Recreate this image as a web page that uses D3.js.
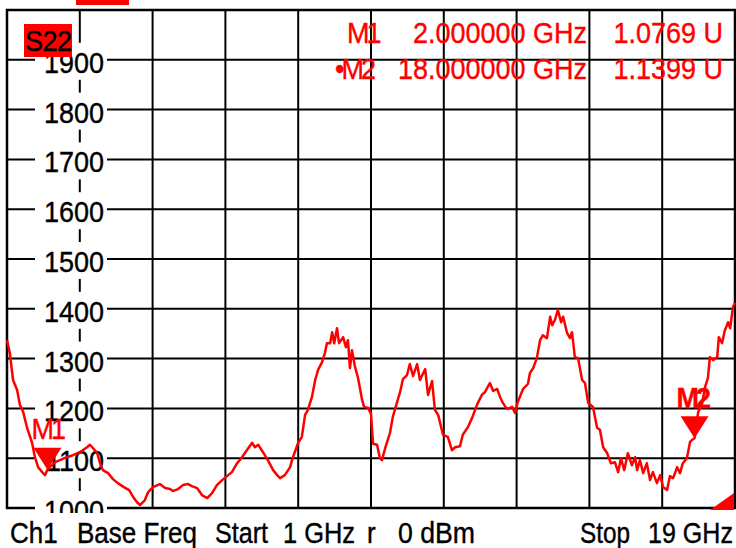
<!DOCTYPE html>
<html>
<head>
<meta charset="utf-8">
<script src="https://cdn.jsdelivr.net/npm/d3@7/dist/d3.min.js"></script>
<style>
  html, body { margin: 0; padding: 0; background: #fff; }
  svg { display: block; }
  text { font-family: "Liberation Sans", Arial, Helvetica, sans-serif; }
</style>
</head>
<body>
<svg id="chart" width="736" height="548"></svg>
<script>
// ---- data (S22 trace, frequency in GHz, value in mU) ----
const freqGHz = [1.00,1.07,1.15,1.25,1.32,1.40,1.49,1.62,1.69,1.77,
1.87,1.94,2.00,2.06,2.19,2.31,2.48,2.63,2.80,2.98,
3.05,3.13,3.23,3.30,3.37,3.50,3.62,3.74,3.89,4.02,
4.12,4.21,4.29,4.41,4.49,4.61,4.78,4.91,5.03,5.10,
5.23,5.35,5.48,5.57,5.70,5.82,5.95,6.07,6.19,6.32,
6.44,6.56,6.69,6.81,6.93,7.06,7.13,7.21,7.33,7.45,
7.58,7.68,7.75,7.87,8.00,8.07,8.20,8.29,8.37,8.44,
8.54,8.62,8.69,8.79,8.86,8.91,8.99,9.04,9.09,9.16,
9.21,9.31,9.38,9.43,9.48,9.53,9.60,9.68,9.78,9.83,
9.93,10.00,10.05,10.15,10.22,10.27,10.35,10.47,10.54,10.64,
10.72,10.79,10.89,10.96,11.04,11.14,11.21,11.34,11.41,11.51,
11.58,11.66,11.78,11.90,12.00,12.08,12.20,12.27,12.40,12.50,
12.62,12.74,12.82,12.94,13.02,13.12,13.19,13.26,13.36,13.49,
13.56,13.63,13.76,13.88,13.93,14.01,14.10,14.18,14.25,14.35,
14.43,14.48,14.55,14.62,14.70,14.75,14.85,14.92,14.97,15.04,
15.12,15.22,15.29,15.37,15.49,15.59,15.66,15.74,15.84,15.93,
16.03,16.11,16.18,16.26,16.35,16.45,16.53,16.58,16.65,16.73,
16.82,16.90,16.97,17.07,17.15,17.22,17.32,17.39,17.47,17.57,
17.64,17.71,17.81,17.89,17.94,18.00,18.09,18.18,18.26,18.33,
18.38,18.46,18.56,18.60,18.68,18.75,18.83,18.88,18.95,19.00];

const valueMU = [1337,1311,1257,1237,1207,1193,1163,1131,1102,1082,
1072,1066,1077,1082,1092,1096,1102,1106,1112,1122,
1127,1120,1110,1090,1076,1070,1058,1050,1042,1036,
1022,1012,1006,1016,1032,1042,1048,1040,1038,1034,
1038,1046,1048,1044,1040,1026,1020,1030,1046,1056,
1064,1072,1090,1102,1116,1131,1122,1127,1112,1096,
1076,1066,1060,1066,1082,1102,1131,1143,1187,1197,
1223,1257,1277,1293,1311,1331,1331,1353,1331,1361,
1331,1343,1323,1337,1281,1317,1285,1261,1217,1203,
1201,1189,1129,1127,1100,1096,1120,1151,1183,1211,
1233,1259,1267,1289,1265,1289,1257,1279,1227,1255,
1197,1187,1147,1143,1116,1122,1124,1147,1163,1181,
1207,1227,1233,1251,1235,1239,1223,1211,1199,1203,
1191,1213,1239,1249,1271,1281,1301,1337,1347,1341,
1384,1367,1378,1398,1373,1384,1351,1341,1353,1303,
1301,1257,1251,1211,1203,1161,1157,1122,1110,1090,
1092,1072,1100,1076,1110,1086,1102,1076,1096,1070,
1090,1056,1072,1050,1066,1042,1036,1064,1060,1082,
1070,1090,1100,1133,1137,1140,1193,1207,1243,1261,
1303,1297,1303,1343,1331,1357,1373,1361,1404,1412];

const yTickLabels = [1900,1800,1700,1600,1500,1400,1300,1200,1100,1000];
const xDomain = [1, 19];
const yDomain = [1000, 2000];

const markerNames = ["M1", "M2"];
const markerFreq = [2.0, 18.0];
const markerValue = [1076.9, 1139.9];
const markerFreqText = ["2.000000 GHz", "18.000000 GHz"];
const markerValText = ["1.0769 U", "1.1399 U"];

const footerTexts = ["Ch1", "Base Freq", "Start", "1 GHz", "r", "0 dBm", "Stop", "19 GHz"];

// ---- layout ----
const L = 7, R = 735, T = 10, B = 508;
const RED = "#ff0000";
const FS = 27, SY = 1.08;

const svg = d3.select("#chart");
const x = d3.scaleLinear().domain(xDomain).range([L, R]);
const y = d3.scaleLinear().domain(yDomain).range([B, T]);

function txt(g, px, py, s, opt = {}) {
  const fill = opt.fill || "#000";
  const t = g.append("text")
    .attr("transform", `translate(${px},${py}) scale(1,${opt.sy || SY})`)
    .attr("font-size", opt.size || FS)
    .attr("fill", fill)
    .attr("stroke", fill).attr("stroke-width", 0.35)
    .attr("text-anchor", opt.anchor || "start")
    .text(s);
  if (opt.bold) t.attr("font-weight", "bold");
  if (opt.ls !== undefined) t.attr("letter-spacing", opt.ls);
  return t;
}

// red block at top
svg.append("rect").attr("x", 76).attr("y", 0).attr("width", 53).attr("height", 5).attr("fill", RED);

// grid
const gridX = d3.range(0, 11).map(i => xDomain[0] + i * (xDomain[1] - xDomain[0]) / 10);
const gridY = d3.range(0, 11).map(i => yDomain[0] + i * (yDomain[1] - yDomain[0]) / 10);
const grid = svg.append("g").attr("stroke", "#000").attr("stroke-width", 2);
grid.selectAll("line.v").data(gridX).join("line")
  .attr("x1", d => x(d)).attr("x2", d => x(d)).attr("y1", T).attr("y2", B);
grid.selectAll("line.h").data(gridY).join("line")
  .attr("x1", L).attr("x2", R).attr("y1", d => y(d)).attr("y2", d => y(d));
svg.append("rect").attr("x", L).attr("y", T).attr("width", R - L).attr("height", B - T)
  .attr("fill", "none").attr("stroke", "#000").attr("stroke-width", 2.5);

// y labels with white backgrounds
svg.append("clipPath").attr("id", "lblclip").append("rect")
  .attr("x", 0).attr("y", 0).attr("width", 736).attr("height", 513);
const yl = svg.append("g").attr("clip-path", "url(#lblclip)");
yTickLabels.forEach(v => {
  const ty = y(v);
  yl.append("rect").attr("x", 35).attr("y", ty - 17).attr("width", 72).attr("height", 37).attr("fill", "#fff");
  txt(yl, 104, ty + 13, String(v), { anchor: "end" });
});

// S22 label
svg.append("rect").attr("x", 24).attr("y", 24).attr("width", 48).attr("height", 33).attr("fill", RED);
txt(svg, 25, 51, "S22", { ls: -0.5 });

// trace
const pts = freqGHz.map((f, i) => [f, valueMU[i]]);
svg.append("path")
  .attr("d", d3.line().x(d => x(d[0])).y(d => y(d[1]))(pts))
  .attr("fill", "none").attr("stroke", RED).attr("stroke-width", 2.5).attr("stroke-linejoin", "round");

// markers on trace
markerNames.forEach((m, i) => {
  const tx = x(markerFreq[i]), ty = y(markerValue[i]);
  svg.append("path")
    .attr("d", `M${tx - 14},${ty - 22}L${tx + 14},${ty - 22}L${tx},${ty}Z`)
    .attr("fill", RED);
  if (i === 1) {
    txt(svg, tx - 18, ty - 30, m, { fill: RED, bold: true, ls: -3 });
  } else {
    txt(svg, tx - 16, ty - 31, m, { fill: RED, ls: -3 });
  }
});

// marker readout (top right)
const rowBase = [43, 79];
markerNames.forEach((m, i) => {
  if (i === 1) {
    txt(svg, 335, rowBase[i], "\u2022" + m, { fill: RED, ls: -3 });
  } else {
    txt(svg, 347, rowBase[i], m, { fill: RED, ls: -3 });
  }
  txt(svg, 587, rowBase[i], markerFreqText[i], { fill: RED, anchor: "end" });
  txt(svg, 723, rowBase[i], markerValText[i], { fill: RED, anchor: "end" });
});

// bottom-right red corner triangle
svg.append("path").attr("d", `M${710},${510}L${734},${510}L${734},${493}Z`).attr("fill", RED);

// footer
const footerX = [10, 77, 215, 283, 367, 398, 580, 648];
const footerW = [null, 120, 53, 72, null, 77, 50, 85];
footerTexts.forEach((s, i) => {
  const t = txt(svg, footerX[i], 543, s, { size: 26, sy: 1.12 });
  if (footerW[i]) t.attr("textLength", footerW[i]).attr("lengthAdjust", "spacingAndGlyphs");
});
</script>
</body>
</html>
